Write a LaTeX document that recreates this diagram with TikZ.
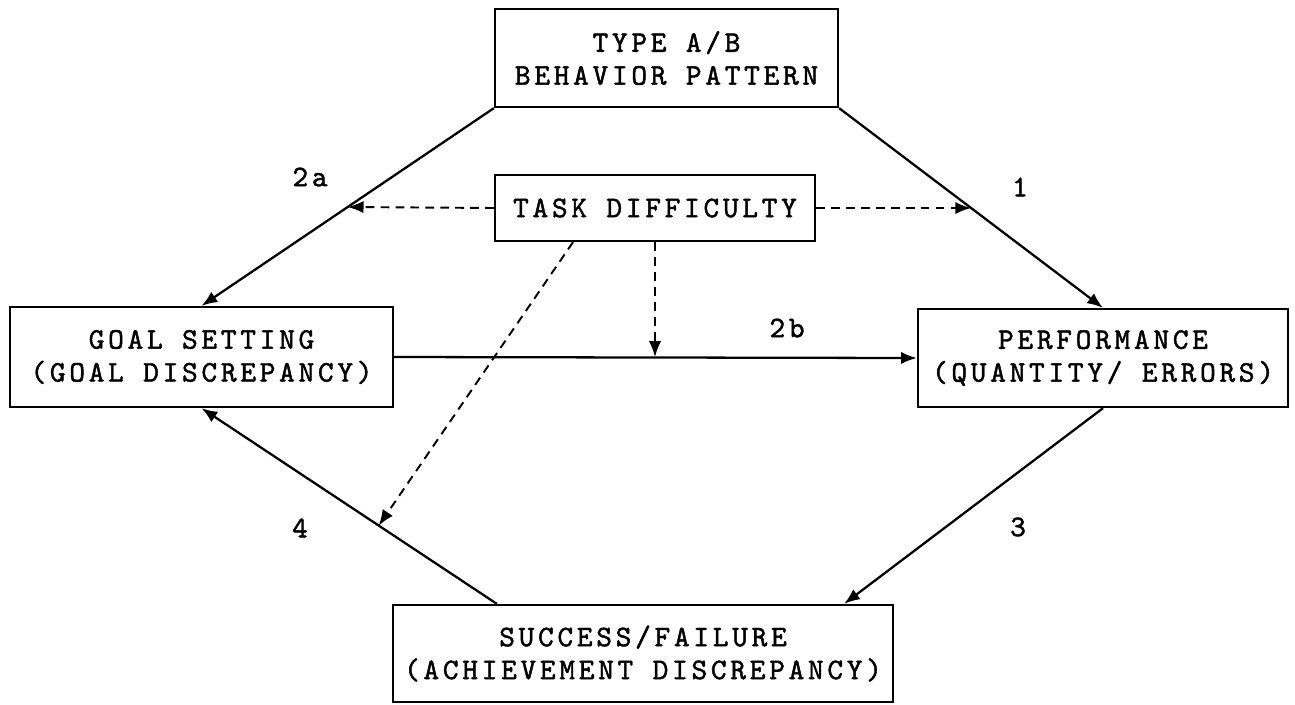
\documentclass[tikz,border=0pt]{standalone}
\usepackage{fontspec}
\usetikzlibrary{arrows,arrows.meta,positioning}

\newfontfamily\boxfam{lmmono10-regular}[Extension=.otf, LetterSpace=12.5, FakeBold=1.5]
\newcommand{\boxfont}{\boxfam\fontsize{17}{18.7}\selectfont}

\begin{document}
\begin{tikzpicture}[x=0.02cm, y=-0.02cm,
	basic/.style = {draw, rectangle, line width=1.3pt, align=center, inner sep=0pt, font=\boxfont},
	factor/.style = {basic, minimum height=1.96cm},
	moderator/.style = {basic, minimum height=1.32cm, minimum width=6.4cm},
	num/.style = {font=\boxfont, inner sep=1pt},
	path/.style = {->, line width=1.3pt},
	modpath/.style = {->, line width=1.1pt, dash pattern=on 5pt off 3.5pt},
	>={Latex[length=9pt,width=7pt]}]

	\useasboundingbox (0,0) rectangle (1295,704);

	% the boxes
	\node[factor, minimum width=6.86cm] (typeab) at (666.5,58) {TYPE A/B\\BEHAVIOR PATTERN};
	\node[moderator] (task) at (655,208) {TASK DIFFICULTY};
	\node[factor, minimum width=7.66cm, minimum height=2cm] (goal) at (201.5,357) {GOAL SETTING\\(GOAL DISCREPANCY)};
	\node[factor, minimum width=7.4cm] (perf) at (1103,358) {PERFORMANCE\\(QUANTITY/ ERRORS)};
	\node[factor, minimum width=10cm, minimum height=1.94cm] (succ) at (643,653.5) {SUCCESS/FAILURE\\(ACHIEVEMENT DISCREPANCY)};

	% the paths, with points on them for the dashed arrows
	\draw[path] (typeab.south west) -- (goal.north) coordinate[pos=0.5] (on2a);
	\draw[path] (typeab.south east) -- (perf.north) coordinate[pos=0.5] (on1);
	\draw[path] (goal.east) -- (perf.west);
	\draw[path] (perf.south) -- ([xshift=-1cm]succ.north east);
	\draw[path] ([xshift=2.1cm]succ.north west) -- (goal.south) coordinate[pos=0.4] (on4);

	% task difficulty as moderator
	\draw[modpath] (task.west) -- (on2a);
	\draw[modpath] (task.east) -- (on1);
	\draw[modpath] (task.south) -- (task.south |- goal.east);
	\draw[modpath] ([xshift=-1.64cm]task.south) -- (on4);

	% path labels
	\node[num] (l2a) at (310,177) {2a};
	\node[num] (l1) at (1020,187) {1};
	\node[num] (l2b) at (787,328) {2b};
	\node[num] (l3) at (1018,527) {3};
	\node[num] (l4) at (300,528) {4};

\end{tikzpicture}
\end{document}
